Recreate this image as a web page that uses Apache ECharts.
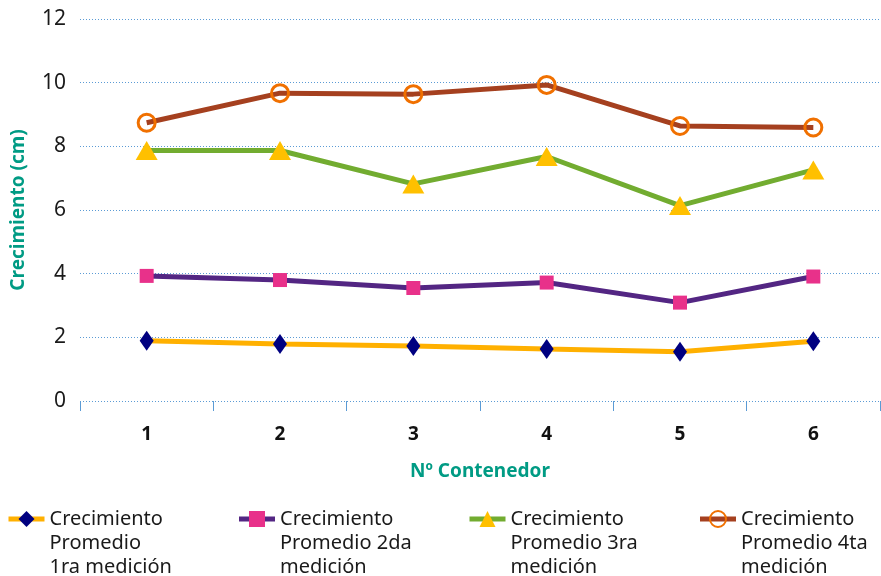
<!DOCTYPE html>
<html>
<head>
<meta charset="utf-8">
<script src="https://cdn.jsdelivr.net/npm/echarts@6/dist/echarts.min.js"></script>
<style>
  html, body { margin: 0; padding: 0; background: #fff; }
  #chart { width: 881px; height: 576px; }
</style>
</head>
<body>
<div id="chart"></div>
<script>
// categorías (Nº contenedor)
var contenedores = ['1', '2', '3', '4', '5', '6'];
var yTicks = [0, 2, 4, 6, 8, 10, 12];

// crecimiento promedio (cm) por medición
var medicion1 = [1.89, 1.79, 1.73, 1.63, 1.55, 1.88];
var medicion2 = [3.93, 3.80, 3.55, 3.72, 3.09, 3.91];
var medicion3 = [7.87, 7.87, 6.82, 7.68, 6.14, 7.26];
var medicion4 = [8.74, 9.67, 9.64, 9.93, 8.64, 8.59];

var nombres = [
  'Crecimiento\nPromedio\n1ra medición',
  'Crecimiento\nPromedio 2da\nmedición',
  'Crecimiento\nPromedio 3ra\nmedición',
  'Crecimiento\nPromedio 4ta\nmedición'
];

var teal = '#009B84';
var gridBlue = '#5B9BD5';
var font = '"Noto Sans", "Open Sans", sans-serif';

var myChart = echarts.init(document.getElementById('chart'));
myChart.setOption({
  backgroundColor: '#fff',
  animation: false,
  textStyle: { fontFamily: font },
  grid: { left: 80, right: 1, top: 19, bottom: 175 },
  legend: {
    left: 6,
    top: 459,
    width: 1000, // evita que el último elemento pase a otra fila
    padding: 0,
    itemWidth: 36,
    itemHeight: 20,
    itemGap: 51,
    selectedMode: false,
    lineStyle: { width: 5 },
    // dos líneas vacías delante para que la primera línea quede a la altura del icono
    formatter: function (name) { return '\n\n' + name; },
    textStyle: {
      fontFamily: font,
      fontSize: 20,
      lineHeight: 24,
      color: '#1a1a1a',
      width: 136
    },
    data: nombres
  },
  xAxis: {
    type: 'category',
    data: contenedores,
    boundaryGap: true,
    name: 'Nº Contenedor',
    nameLocation: 'middle',
    nameGap: 61,
    nameTextStyle: { color: teal, fontSize: 19, fontWeight: 'bold', fontFamily: font },
    axisLine: { show: false },
    axisTick: { show: true, length: 10, lineStyle: { color: gridBlue, width: 1 } },
    axisLabel: { color: '#111', fontSize: 19, fontWeight: 'bold', margin: 24 },
    splitLine: { show: false }
  },
  yAxis: {
    type: 'value',
    min: yTicks[0],
    max: yTicks[yTicks.length - 1],
    interval: 2,
    name: 'Crecimiento (cm)',
    nameLocation: 'middle',
    nameGap: 52,
    nameTextStyle: { color: teal, fontSize: 19, fontWeight: 'bold', fontFamily: font },
    axisLine: { show: false },
    axisTick: { show: false },
    axisLabel: { color: '#1a1a1a', fontSize: 21, margin: 14 },
    splitLine: { show: true, lineStyle: { color: gridBlue, type: [1, 2], width: 1 } }
  },
  series: [
    {
      name: nombres[0], type: 'line', data: medicion1,
      symbol: 'diamond', symbolSize: [14, 20],
      lineStyle: { color: '#FFB000', width: 5 },
      itemStyle: { color: '#000080' }
    },
    {
      name: nombres[1], type: 'line', data: medicion2,
      symbol: 'rect', symbolSize: 14,
      lineStyle: { color: '#532683', width: 5 },
      itemStyle: { color: '#E8318A' }
    },
    {
      name: nombres[2], type: 'line', data: medicion3,
      symbol: 'triangle', symbolSize: [22, 19],
      lineStyle: { color: '#72AC30', width: 5 },
      itemStyle: { color: '#FFC000' }
    },
    {
      name: nombres[3], type: 'line', data: medicion4,
      symbol: 'circle', symbolSize: 17,
      lineStyle: { color: '#A5401F', width: 5 },
      itemStyle: { color: 'rgba(255,255,255,0)', borderColor: '#F07000', borderWidth: 3 }
    }
  ]
});
</script>
</body>
</html>
